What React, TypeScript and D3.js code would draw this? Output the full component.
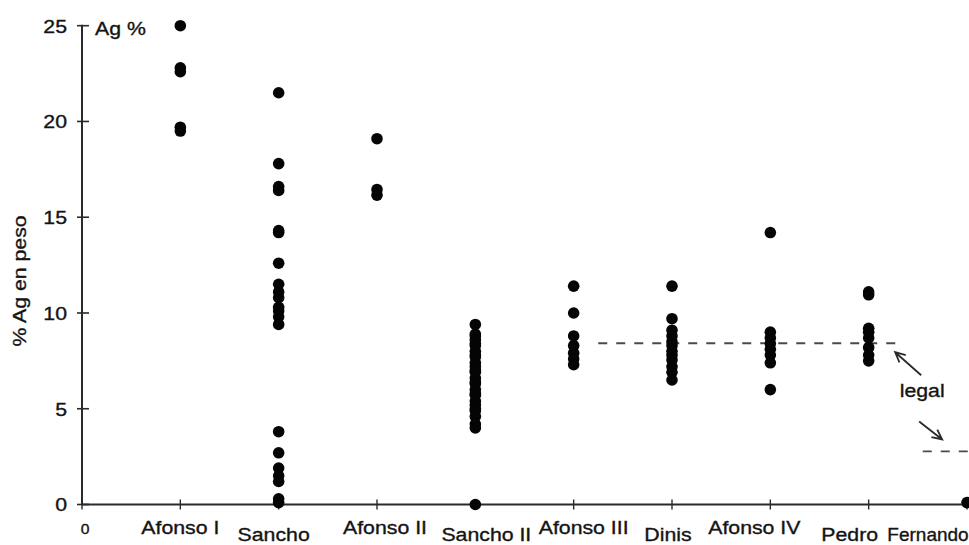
import React from "react";
import * as d3 from "d3";

// Reigns along the horizontal axis
const kings = [
  "Afonso I",
  "Sancho",
  "Afonso II",
  "Sancho II",
  "Afonso III",
  "Dinis",
  "Afonso IV",
  "Pedro",
  "Fernando",
];

// Silver content (% Ag by weight) of the analysed coins, per reign
const afonsoI = [25.0, 22.8, 22.6, 19.7, 19.5];
const sancho = [
  21.5, 17.8, 16.6, 16.4, 14.3, 14.2, 12.6, 11.5, 11.1, 10.8, 10.3, 10.1, 9.8,
  9.4, 3.8, 2.7, 1.9, 1.5, 1.2, 0.3, 0.1,
];
const afonsoII = [19.1, 16.45, 16.15];
const sanchoII = [
  9.4, 8.9, 8.8, 8.6, 8.4, 8.3, 8.0, 7.8, 7.7, 7.4, 7.2, 7.0, 6.9, 6.6, 6.4,
  6.3, 6.0, 5.8, 5.7, 5.4, 5.2, 5.0, 4.9, 4.6, 4.2, 4.0, 0.0,
];
const afonsoIII = [11.4, 10.0, 8.8, 8.3, 7.9, 7.6, 7.3];
const dinis = [11.4, 9.7, 9.1, 8.8, 8.5, 8.3, 8.0, 7.8, 7.55, 7.2, 6.9, 6.5];
const afonsoIV = [14.2, 9.0, 8.7, 8.4, 8.1, 7.8, 7.4, 6.0];
const pedro = [11.1, 10.95, 9.2, 9.0, 8.7, 8.2, 7.8, 7.5];
const fernando = [0.1];

const valuesByKing = [
  afonsoI,
  sancho,
  afonsoII,
  sanchoII,
  afonsoIII,
  dinis,
  afonsoIV,
  pedro,
  fernando,
];

// Legal fineness levels (dashed), spanning reign positions on the x axis
const legalStart = [5.25, 8.55];
const legalEnd = [8.3, 9.2];
const legalValue = [8.42, 2.77];

const yTicks = [0, 5, 10, 15, 20, 25];

const W = 969;
const H = 545;
const FONT = "'Liberation Sans', Arial, Helvetica, sans-serif";
const INK = "#141414";
const AXIS = "#2b2b2b";
const STRETCH = 1.12;

// Small horizontal nudges of the reign names and the two label rows
const labelDx = [0, -5, 8, 11, 10, -4, -16, -19, -39];
const labelStretch = [STRETCH, STRETCH, STRETCH, STRETCH, STRETCH, STRETCH, STRETCH, STRETCH, 1.0];
const upperBaseline = 534;
const lowerBaseline = 541;

function Label({
  x,
  y,
  children,
  anchor = "middle",
  size = 19,
  stretch = STRETCH,
}: {
  x: number;
  y: number;
  children: React.ReactNode;
  anchor?: string;
  size?: number;
  stretch?: number;
}) {
  return (
    <text
      transform={`translate(${x},${y}) scale(${stretch},1)`}
      textAnchor={anchor}
      fontFamily={FONT}
      fontSize={size}
      fill={INK}
      stroke={INK}
      strokeWidth={0.35}
    >
      {children}
    </text>
  );
}

function arrowPath(x1: number, y1: number, x2: number, y2: number) {
  // shaft from (x1,y1) to tip (x2,y2) with an open V head
  const a = Math.atan2(y2 - y1, x2 - x1);
  const len = 11;
  const spread = Math.PI / 7;
  const h1x = x2 - len * Math.cos(a - spread);
  const h1y = y2 - len * Math.sin(a - spread);
  const h2x = x2 - len * Math.cos(a + spread);
  const h2y = y2 - len * Math.sin(a + spread);
  return `M${x1},${y1}L${x2},${y2}M${h1x},${h1y}L${x2},${y2}L${h2x},${h2y}`;
}

export default function App() {
  const x = d3.scaleLinear().domain([0, 9]).range([82, 967]);
  const y = d3.scaleLinear().domain([0, 25]).range([504.5, 25.7]);

  const points = valuesByKing.flatMap((vals, i) =>
    vals.map((v) => ({ pos: i + 1, v }))
  );

  const upLegal = { x: x(8.3) + 23, y: y(legalValue[0]) + 32 };
  const upTip = { x: x(8.3) - 3, y: y(legalValue[0]) + 9 };
  const dnStart = { x: x(8.3) + 21, y: y(legalValue[1]) - 30 };
  const dnTip = { x: x(8.3) + 44, y: y(legalValue[1]) - 12 };

  return (
    <svg
      width={W}
      height={H}
      viewBox={`0 0 ${W} ${H}`}
      style={{ position: "absolute", left: 0, top: 0, background: "#fff" }}
    >
      <rect width={W} height={H} fill="#fff" />

      {/* y axis */}
      <line
        x1={x(0)}
        x2={x(0)}
        y1={y(25) - 1}
        y2={y(0)}
        stroke={AXIS}
        strokeWidth={2}
      />
      {yTicks.map((t) => (
        <g key={t}>
          <line
            x1={x(0) - 5}
            x2={x(0) + 7}
            y1={y(t)}
            y2={y(t)}
            stroke={AXIS}
            strokeWidth={1.6}
          />
          <Label x={67} y={y(t) + 6.8} anchor="end">
            {t}
          </Label>
        </g>
      ))}
      <Label x={x(0) + 13} y={y(25) + 9.5} anchor="start">
        Ag %
      </Label>
      <text
        transform={`translate(26,281) rotate(-90) scale(${STRETCH},1)`}
        textAnchor="middle"
        fontFamily={FONT}
        fontSize={19}
        fill={INK}
        stroke={INK}
        strokeWidth={0.35}
      >
        % Ag en peso
      </text>

      {/* x axis */}
      <line
        x1={x(0)}
        x2={W + 2}
        y1={y(0)}
        y2={y(0)}
        stroke={AXIS}
        strokeWidth={2}
      />
      {d3.range(0, 10).map((i) => (
        <line
          key={i}
          x1={x(i)}
          x2={x(i)}
          y1={y(0) - 5}
          y2={y(0) + 5}
          stroke={AXIS}
          strokeWidth={1.4}
        />
      ))}
      <Label x={x(0) + 3} y={upperBaseline} size={14}>
        0
      </Label>
      {kings.map((k, i) => (
        <Label
          key={k}
          x={x(i + 1) + labelDx[i]}
          y={i % 2 === 0 && i < 8 ? upperBaseline : lowerBaseline}
          stretch={labelStretch[i]}
        >
          {k}
        </Label>
      ))}

      {/* legal fineness */}
      {legalValue.map((v, i) => (
        <line
          key={i}
          x1={x(legalStart[i])}
          x2={x(legalEnd[i])}
          y1={y(v)}
          y2={y(v)}
          stroke="#4a4a4a"
          strokeWidth={1.8}
          strokeDasharray="9 9"
        />
      ))}
      <path
        d={arrowPath(upLegal.x, upLegal.y, upTip.x, upTip.y)}
        fill="none"
        stroke="#2a2a2a"
        strokeWidth={1.8}
      />
      <path
        d={arrowPath(dnStart.x, dnStart.y, dnTip.x, dnTip.y)}
        fill="none"
        stroke="#2a2a2a"
        strokeWidth={1.8}
      />
      <Label x={x(8.3) + 24} y={y(legalValue[0]) + 54}>
        legal
      </Label>

      {/* coins */}
      {points.map((p, i) => (
        <circle key={i} cx={x(p.pos)} cy={y(p.v)} r={5.8} fill="#050505" />
      ))}
    </svg>
  );
}
